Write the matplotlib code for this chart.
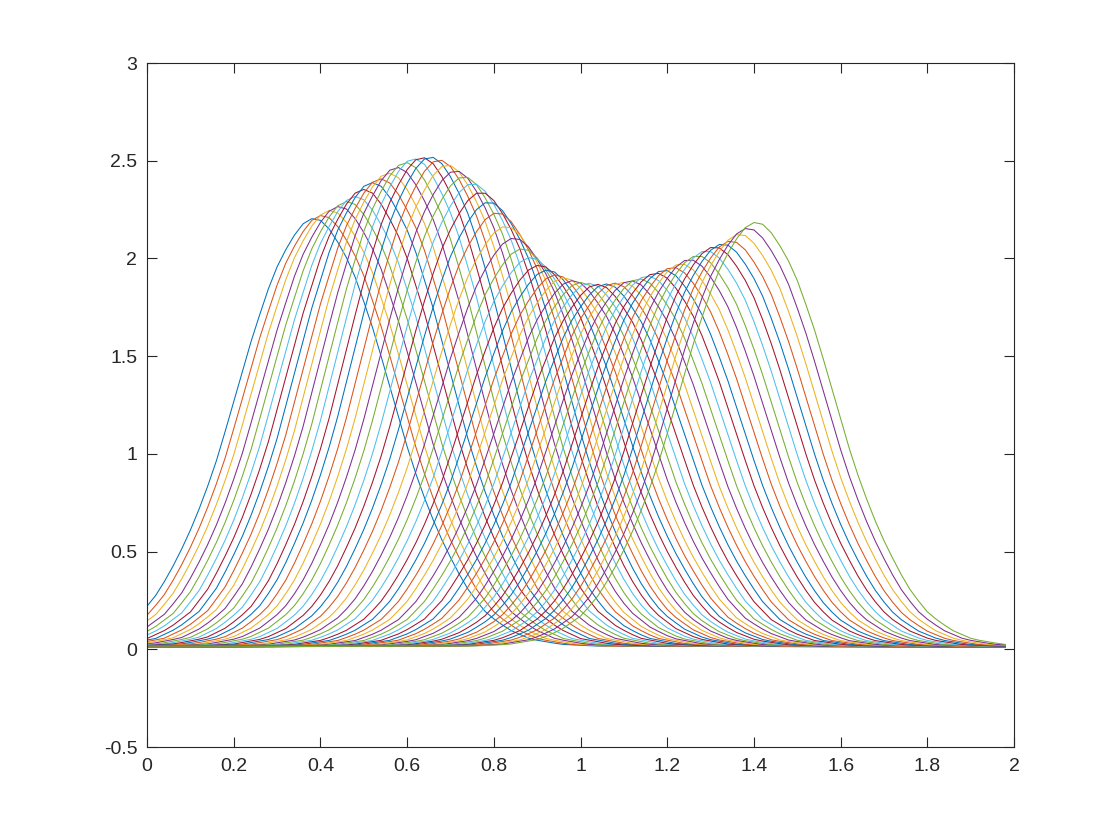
import numpy as np
import matplotlib
matplotlib.use("Agg")
import matplotlib.pyplot as plt

# sample grid of the curves (x values)
x_start, x_step, n_x = 0.0, 0.02, 100

# peak position and peak height of each of the 54 curves
peak_x = [0.385, 0.404, 0.423, 0.443, 0.462, 0.481, 0.500, 0.520, 0.539, 0.558,
          0.577, 0.597, 0.616, 0.635, 0.654, 0.674, 0.693, 0.712, 0.731, 0.751,
          0.770, 0.789, 0.808, 0.828, 0.847, 0.866, 0.885, 0.905, 0.924, 0.943,
          0.962, 0.982, 1.001, 1.020, 1.039, 1.059, 1.078, 1.097, 1.116, 1.136,
          1.155, 1.174, 1.193, 1.213, 1.232, 1.251, 1.270, 1.290, 1.309, 1.328,
          1.347, 1.367, 1.386, 1.405]
peak_y = [2.20, 2.215, 2.24, 2.26, 2.285, 2.31, 2.345, 2.38, 2.40, 2.43,
          2.46, 2.485, 2.505, 2.512, 2.515, 2.50, 2.475, 2.445, 2.415, 2.38,
          2.335, 2.285, 2.23, 2.16, 2.10, 2.045, 2.00, 1.96, 1.935, 1.91,
          1.895, 1.88, 1.87, 1.865, 1.86, 1.862, 1.867, 1.872, 1.88, 1.89,
          1.905, 1.92, 1.935, 1.95, 1.968, 1.99, 2.01, 2.035, 2.055, 2.07,
          2.085, 2.12, 2.15, 2.18]

# pulse profile: fraction of peak height vs distance from peak
profile_d = [0.0, 0.02, 0.04, 0.06, 0.08, 0.10, 0.12, 0.14, 0.16, 0.18, 0.20,
             0.22, 0.24, 0.26, 0.28, 0.30, 0.33, 0.36, 0.40, 0.45, 0.50, 0.57,
             0.65, 2.0]
profile_f = [1.0, 0.992, 0.968, 0.935, 0.898, 0.85, 0.79, 0.73, 0.66, 0.59, 0.52,
             0.45, 0.39, 0.335, 0.285, 0.24, 0.18, 0.128, 0.078, 0.042, 0.02, 0.008,
             0.004, 0.0]
floor_level = 0.008

x_ticks = [0, 0.2, 0.4, 0.6, 0.8, 1, 1.2, 1.4, 1.6, 1.8, 2]
x_ticklabels = ["0", "0.2", "0.4", "0.6", "0.8", "1", "1.2", "1.4", "1.6", "1.8", "2"]
y_ticks = [-0.5, 0, 0.5, 1, 1.5, 2, 2.5, 3]
y_ticklabels = ["-0.5", "0", "0.5", "1", "1.5", "2", "2.5", "3"]

colors = ["#0072BD", "#D95319", "#EDB120", "#7E2F8E", "#77AC30", "#4DBEEE", "#A2142F"]

plt.rcParams["font.family"] = ["Liberation Sans", "DejaVu Sans"]
plt.rcParams["axes.unicode_minus"] = False

fig = plt.figure(figsize=(11.2, 8.4), dpi=100)
ax = fig.add_axes([0.1313, 0.1107, 0.7741, 0.8143])

x = x_start + x_step * np.arange(n_x)
for i, (xc, h) in enumerate(zip(peak_x, peak_y)):
    y = h * np.interp(np.abs(x - xc), profile_d, profile_f) + floor_level
    ax.plot(x, y, color=colors[i % len(colors)], lw=0.75)

ax.set_xlim(0, 2)
ax.set_ylim(-0.5, 3)
ax.set_xticks(x_ticks)
ax.set_xticklabels(x_ticklabels)
ax.set_yticks(y_ticks)
ax.set_yticklabels(y_ticklabels)
ax.tick_params(direction="in", length=7, width=0.8, color="#262626",
               labelsize=14, labelcolor="#262626", top=True, right=True)
ax.tick_params(axis="x", pad=8)
ax.tick_params(axis="y", pad=7)
for s in ax.spines.values():
    s.set_color("#262626")
    s.set_linewidth(0.8)

fig.savefig("out.png", dpi=100)
